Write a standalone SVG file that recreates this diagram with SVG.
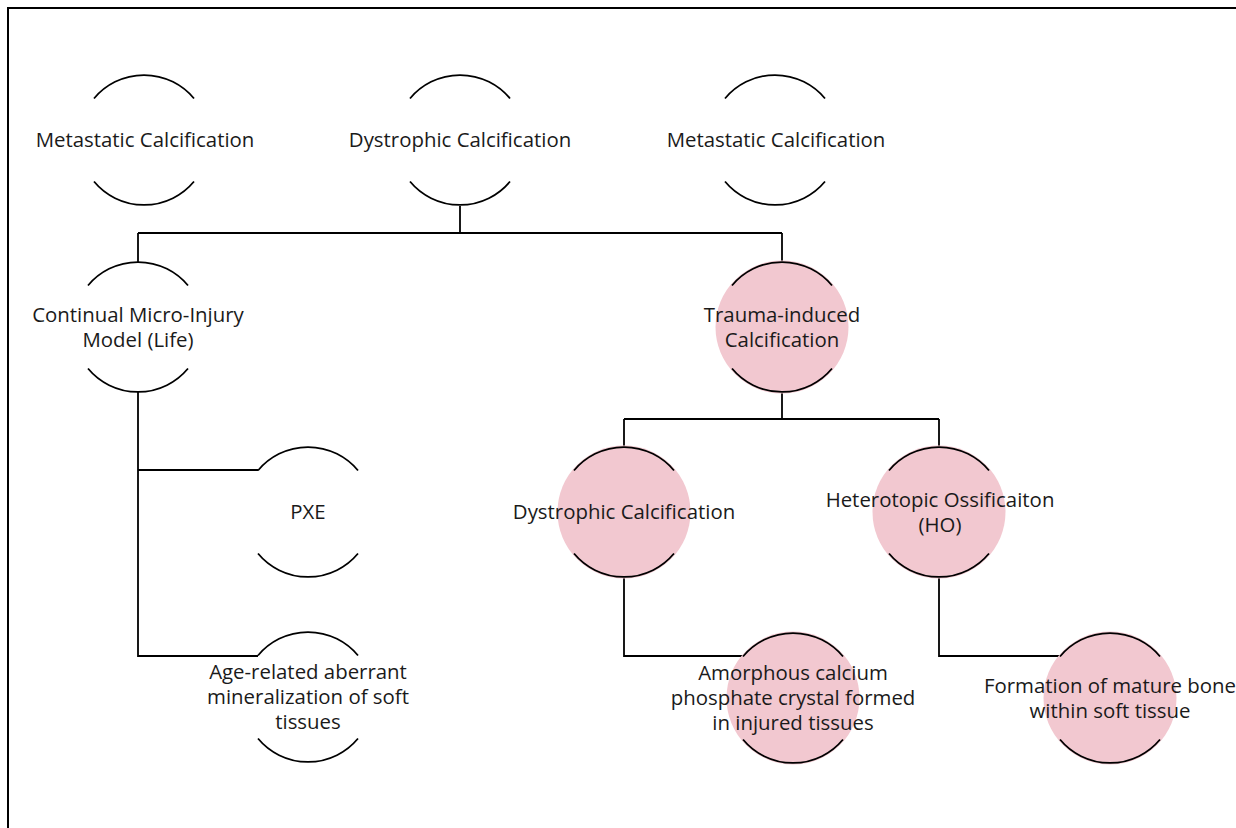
<svg xmlns="http://www.w3.org/2000/svg" width="1236" height="828" viewBox="0 0 1236 828">
  <style>
    .frame { fill: none; stroke: #000; stroke-width: 2; }
    .link { fill: none; stroke: #000; stroke-width: 1.8; }
    .arc { fill: none; stroke: #000; stroke-width: 1.8; }
    .disc { fill: #F2C8D0; }
    .label { font-family: "Open Sans", "Noto Sans", sans-serif; font-size: 20.4px; fill: #1a1a1a; text-anchor: middle; }
  </style>
  <defs>
    <!-- open ring: only the top and bottom arcs of a r=65 circle are stroked -->
    <g id="ring">
      <path class="arc" d="M -50 -41.5 A 65 65 0 0 1 50 -41.5"/>
      <path class="arc" d="M -50 41.5 A 65 65 0 0 0 50 41.5"/>
    </g>
    <circle id="blob" class="disc" r="66.5"/>
  </defs>

  <rect width="1236" height="828" fill="#fff"/>
  <path class="frame" d="M 8 828 V 8 H 1236"/>

  <g id="connectors">
    <path class="link" d="M 460 206 V 233"/>
    <path class="link" d="M 138 233 H 782"/>
    <path class="link" d="M 138 233 V 262"/>
    <path class="link" d="M 782 233 V 262"/>
    <path class="link" d="M 138 392 V 656 H 258"/>
    <path class="link" d="M 138 470 H 258"/>
    <path class="link" d="M 782 392 V 419"/>
    <path class="link" d="M 624 419 H 939"/>
    <path class="link" d="M 624 419 V 447"/>
    <path class="link" d="M 939 419 V 447"/>
    <path class="link" d="M 624 577 V 656 H 743"/>
    <path class="link" d="M 939 577 V 656 H 1060"/>
  </g>

  <g id="metastatic-1" transform="translate(144 140)">
    <use href="#ring"/>
    <text class="label" x="1" y="7">Metastatic Calcification</text>
  </g>

  <g id="dystrophic-top" transform="translate(460 140)">
    <use href="#ring"/>
    <text class="label" x="0" y="7">Dystrophic Calcification</text>
  </g>

  <g id="metastatic-2" transform="translate(775 140)">
    <use href="#ring"/>
    <text class="label" x="1" y="7">Metastatic Calcification</text>
  </g>

  <g id="micro-injury" transform="translate(138 327)">
    <use href="#ring"/>
    <text class="label" x="0" y="-5.5">Continual Micro-Injury</text>
    <text class="label" x="0" y="19.5">Model (Life)</text>
  </g>

  <g id="trauma" transform="translate(782 327)">
    <use href="#blob"/>
    <use href="#ring"/>
    <text class="label" x="0" y="-5.5">Trauma-induced</text>
    <text class="label" x="0" y="19.5">Calcification</text>
  </g>

  <g id="pxe" transform="translate(308 512)">
    <use href="#ring"/>
    <text class="label" x="0" y="7">PXE</text>
  </g>

  <g id="dystrophic-trauma" transform="translate(624 512)">
    <use href="#blob"/>
    <use href="#ring"/>
    <text class="label" x="0" y="7">Dystrophic Calcification</text>
  </g>

  <g id="ho" transform="translate(939 512)">
    <use href="#blob"/>
    <use href="#ring"/>
    <text class="label" x="1" y="-5.5">Heterotopic Ossificaiton</text>
    <text class="label" x="1" y="19.5">(HO)</text>
  </g>

  <g id="age-related" transform="translate(308 697)">
    <use href="#ring"/>
    <text class="label" x="0" y="-18">Age-related aberrant</text>
    <text class="label" x="0" y="7">mineralization of soft</text>
    <text class="label" x="0" y="32">tissues</text>
  </g>

  <g id="amorphous" transform="translate(793 698)">
    <use href="#blob"/>
    <use href="#ring"/>
    <text class="label" x="0" y="-18.5">Amorphous calcium</text>
    <text class="label" x="0" y="6.5">phosphate crystal formed</text>
    <text class="label" x="0" y="31.5">in injured tissues</text>
  </g>

  <g id="mature-bone" transform="translate(1110 698)">
    <use href="#blob"/>
    <use href="#ring"/>
    <text class="label" x="0" y="-5.5">Formation of mature bone</text>
    <text class="label" x="0" y="19.5">within soft tissue</text>
  </g>
</svg>
